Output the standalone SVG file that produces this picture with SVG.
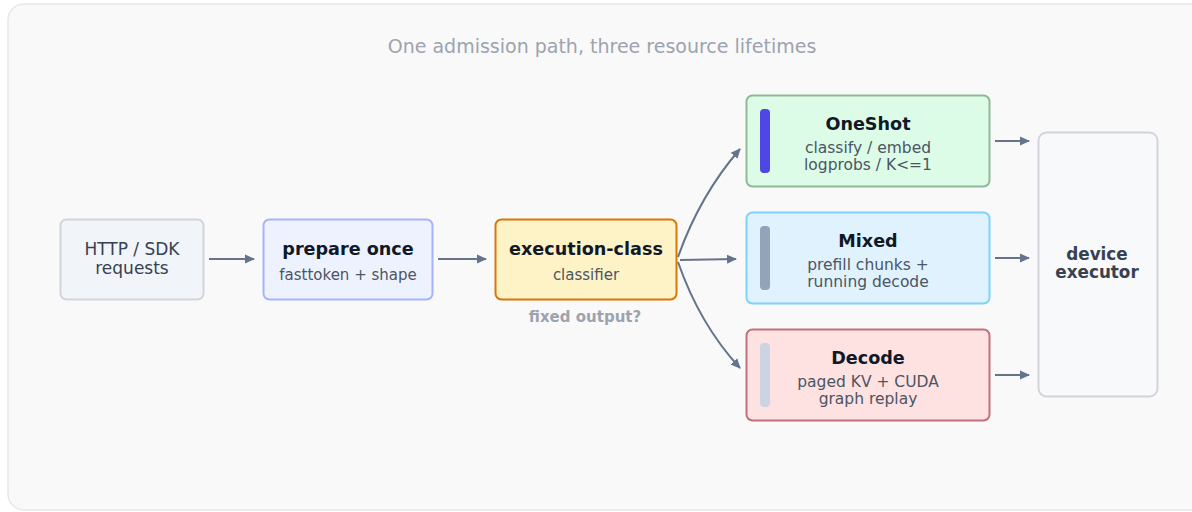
<svg xmlns="http://www.w3.org/2000/svg" width="1192" height="512" viewBox="0 0 1192 512">
<style>
text{font-family:"DejaVu Sans","Noto Sans",sans-serif;text-anchor:middle}
.t{font-size:15px;fill:#4b5563}
.l{font-size:15.5px;fill:#4b5563}
.h{font-size:17.6px;font-weight:bold;fill:#111827}
.c{fill:none;stroke:#64748b;stroke-width:2}
</style>
<defs>
<marker id="ah" markerWidth="10" markerHeight="10" refX="9" refY="5" orient="auto" markerUnits="userSpaceOnUse">
<path d="M0,0.5 L10,5 L0,9.5 Z" fill="#64748b"/>
</marker>
</defs>
<rect x="8" y="4" width="1200" height="506" rx="16" fill="#f9f9f9" stroke="#e5e7eb" stroke-width="1.5"/>
<text x="602" y="53" style="font-size:19px;fill:#9ca3af">One admission path, three resource lifetimes</text>
<g id="requests">
<rect x="60.5" y="219.5" width="143" height="80" rx="6" fill="#f1f4f9" stroke="#d1d5db" stroke-width="2"/>
<text x="132" y="255" style="font-size:17px;fill:#374151">HTTP / SDK</text>
<text x="132" y="274" style="font-size:17px;fill:#374151">requests</text>
</g>
<g id="prepare">
<rect x="263.5" y="219.5" width="169" height="80" rx="6" fill="#eef2ff" stroke="#a5b4fc" stroke-width="2"/>
<text x="348" y="255" class="h">prepare once</text>
<text x="348" y="280" class="t">fasttoken + shape</text>
</g>
<g id="classifier">
<rect x="495.5" y="219.5" width="181" height="80" rx="6" fill="#fef3c7" stroke="#d97706" stroke-width="2"/>
<text x="586" y="255" class="h">execution-class</text>
<text x="586" y="280" class="t">classifier</text>
<text x="585" y="322" style="font-size:15px;font-weight:bold;fill:#9ca3af">fixed output?</text>
</g>
<g id="oneshot">
<rect x="746.5" y="95.5" width="243" height="91" rx="6" fill="#dcfce7" stroke="#8fb996" stroke-width="2"/>
<rect x="760" y="109" width="10" height="64" rx="4" fill="#4f46e5"/>
<text x="868" y="130" class="h">OneShot</text>
<text x="868" y="153" class="l">classify / embed</text>
<text x="868" y="170" class="l">logprobs / K&lt;=1</text>
</g>
<g id="mixed">
<rect x="746.5" y="212.5" width="243" height="91" rx="6" fill="#e0f2fe" stroke="#7dd3fc" stroke-width="2"/>
<rect x="760" y="226" width="10" height="64" rx="4" fill="#94a3b8"/>
<text x="868" y="247" class="h">Mixed</text>
<text x="868" y="270" class="l">prefill chunks +</text>
<text x="868" y="287" class="l">running decode</text>
</g>
<g id="decode">
<rect x="746.5" y="329.5" width="243" height="91" rx="6" fill="#fee2e2" stroke="#c0707a" stroke-width="2"/>
<rect x="760" y="343" width="10" height="64" rx="4" fill="#cbd5e1"/>
<text x="868" y="364" class="h">Decode</text>
<text x="868" y="387" class="l">paged KV + CUDA</text>
<text x="868" y="404" class="l">graph replay</text>
</g>
<g id="executor">
<rect x="1038.5" y="132.5" width="119" height="264" rx="8" fill="#f8f9fb" stroke="#d1d5db" stroke-width="2"/>
<text x="1097" y="260" style="font-size:16.8px;font-weight:bold;fill:#374151">device</text>
<text x="1097" y="278" style="font-size:16.8px;font-weight:bold;fill:#374151">executor</text>
</g>
<g id="connectors">
<path class="c" d="M209,259 L254,259" marker-end="url(#ah)"/>
<path class="c" d="M438,259 L486,259" marker-end="url(#ah)"/>
<path class="c" d="M680,260 L736,259" marker-end="url(#ah)"/>
<path class="c" d="M678,257 Q700,195 740,149" marker-end="url(#ah)"/>
<path class="c" d="M678,262 Q700,325 740,368" marker-end="url(#ah)"/>
<path class="c" d="M995,141 L1029,141" marker-end="url(#ah)"/>
<path class="c" d="M995,258 L1029,258" marker-end="url(#ah)"/>
<path class="c" d="M995,375 L1029,375" marker-end="url(#ah)"/>
</g>
</svg>
